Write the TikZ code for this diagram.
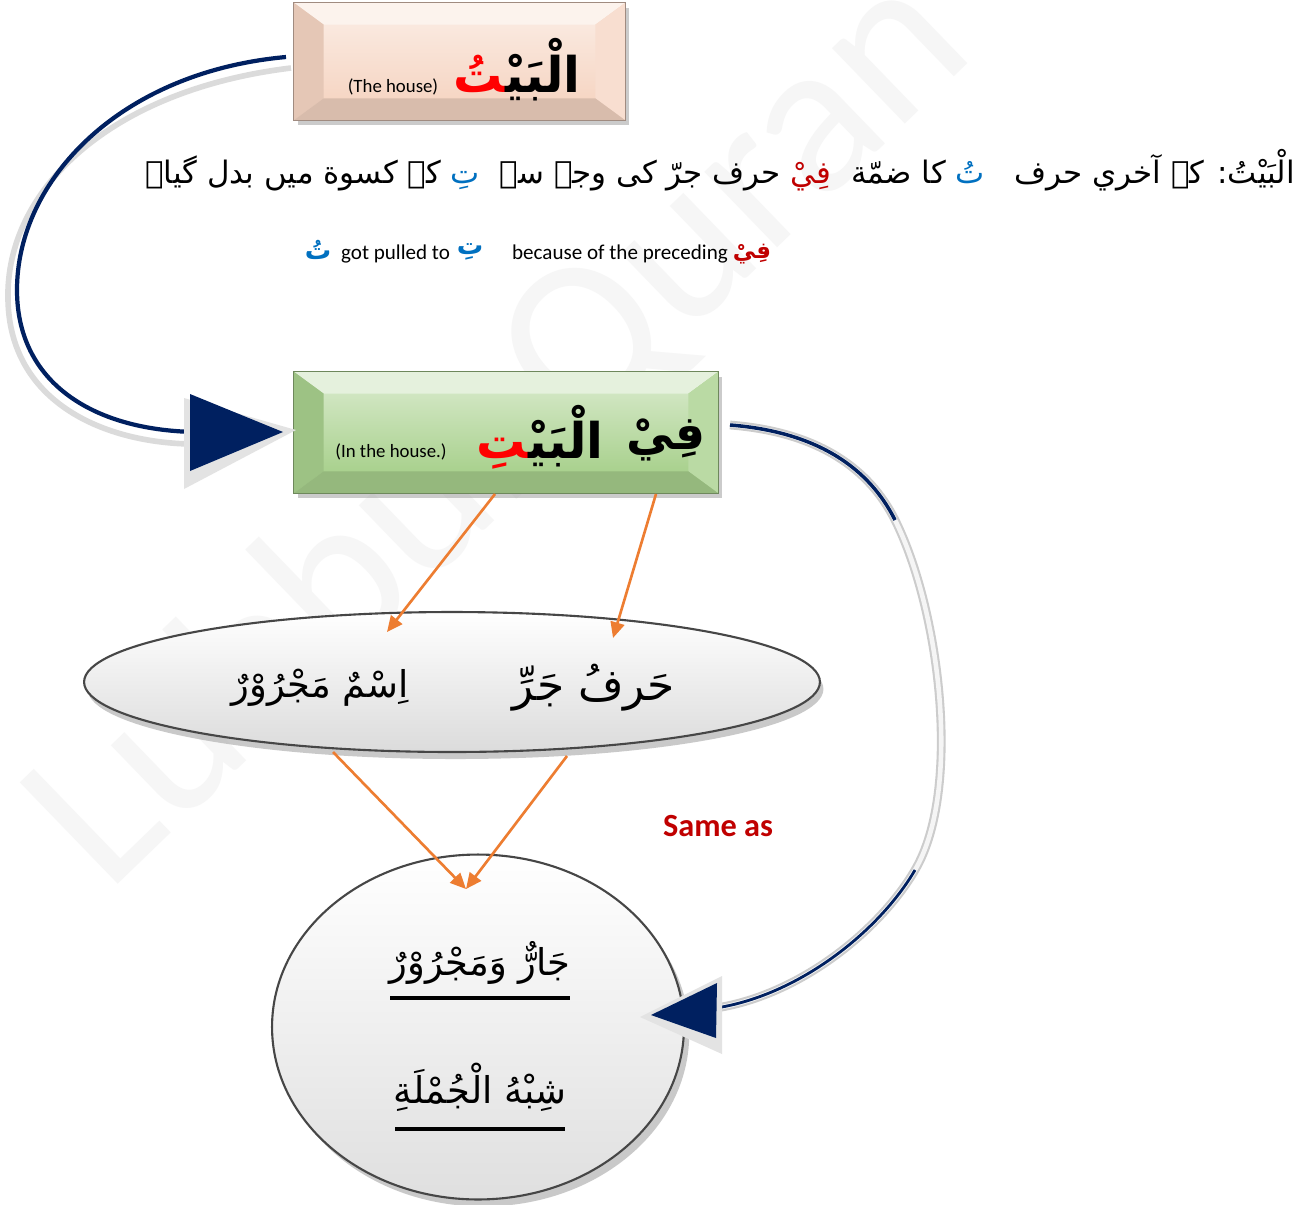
\documentclass[tikz,border=0pt]{standalone}
\usepackage{fontspec}
\setmainfont{Carlito}
\newfontfamily\arabicfont[Script=Arabic]{DejaVu Sans}
\TeXXeTstate=1
\usetikzlibrary{shapes.geometric,arrows.meta,calc,shadows}
\definecolor{navy}{HTML}{002060}
\definecolor{orng}{HTML}{ED7D31}
\definecolor{peach}{HTML}{F6D6C4}
\definecolor{grn}{HTML}{A9D18E}
\definecolor{dred}{HTML}{C00000}
\definecolor{tblue}{HTML}{0070C0}
\definecolor{wm}{HTML}{F6F6F6}
\newcommand\zwj{^^^^200d}
\newcommand\rl[1]{\hbox{\beginR #1\endR}}
% bevelled box: #1 node name, #2 colour
\newcommand\bevelbox[2]{%
  \fill[black!40,opacity=.5] ($(#1.south west)+(4,5)$) rectangle ($(#1.north east)+(4,5)$);
  \fill[#2] (#1.south west) rectangle (#1.north east);
  \fill[top color=#2!55!white,bottom color=#2] ($(#1.north west)+(30,22)$) rectangle ($(#1.south east)+(-30,-22)$);
  \fill[#2!30!white] (#1.north west) -- (#1.north east) -- ($(#1.north east)+(-30,22)$) -- ($(#1.north west)+(30,22)$) -- cycle;
  \fill[#2!93!black] (#1.north west) -- ($(#1.north west)+(30,22)$) -- ($(#1.south west)+(30,-22)$) -- (#1.south west) -- cycle;
  \fill[#2!80!white] (#1.north east) -- ($(#1.north east)+(-30,22)$) -- ($(#1.south east)+(-30,-22)$) -- (#1.south east) -- cycle;
  \fill[#2!88!black] (#1.south west) -- ($(#1.south west)+(30,-22)$) -- ($(#1.south east)+(-30,-22)$) -- (#1.south east) -- cycle;
  \draw[#2!65!black,line width=.4pt] (#1.south west) rectangle (#1.north east);
}
\begin{document}
\begin{tikzpicture}[x=0.02cm,y=-0.02cm,
  ar/.style={font=\arabicfont\fontsize{#1}{#1}\selectfont,inner sep=1pt},
  arb/.style={font=\arabicfont\bfseries\fontsize{#1}{#1}\selectfont,inner sep=1pt},
  en/.style={font=\fontsize{#1}{#1}\selectfont,inner sep=1pt},
  oarrow/.style={draw=orng,line width=1.5pt,-{Triangle[length=9pt,width=8pt]}},
  ribbon/.style={draw=gray!28,line width=3.2pt},
  navyline/.style={draw=navy,line width=2.4pt},
  tip/.style={fill=navy},
  tipbevel/.style={fill=gray!22}
]
\useasboundingbox (0,0) rectangle (1315,1204);
\fill[white] (0,0) rectangle (1315,1204);

% watermark
\node[rotate=44,text=wm,font=\fontsize{125}{125}\selectfont] (wmark) at (500,430) {Lubbul Quran};

% ---------- boxes ----------
\node[minimum width=6.62cm,minimum height=2.34cm,inner sep=0] (house) at (459.5,61.5) {};
\bevelbox{house}{peach}
\node[en=10.7] (houseen) at (393,87) {(The house)};
\node[arb=28,text=black] (housear) at (517,70) {\textcolor{red}{\hbox{\zwj تُ}}\hbox{الْبَيْ\zwj}};

\node[minimum width=8.48cm,minimum height=2.42cm,inner sep=0] (green) at (506,432.5) {};
\bevelbox{green}{grn}
\node[en=10.7] (greenen) at (391,452) {(In the house.)};
\node[arb=28] (greenar1) at (540,437) {\textcolor{red}{\hbox{\zwj تِ}}\hbox{الْبَيْ\zwj}};
\node[arb=27] (greenar2) at (666,440) {\rl{فِيْ}};

% ---------- explanation lines ----------
\node[ar=17.6,anchor=east] (urdu) at (1297,170) {\rl{کے کسوة میں بدل گیا۔}\ \textcolor{tblue}{\rl{تِ}}\ \ \rl{حرف جرّ کی وجہ سے}\ \textcolor{dred}{\rl{فِيْ}}\ \ \rl{کا ضمّة}\ \textcolor{tblue}{\rl{تُ}}\ \ \ \rl{الْبَيْتُ: کے آخري حرف}};

\node[arb=15,text=tblue] (e1) at (318,250) {\rl{تُ}};
\node[en=12,anchor=west] (e2) at (339,254) {got pulled to};
\node[arb=15,text=tblue] (e3) at (470,252) {\rl{تِ}};
\node[en=12,anchor=west] (e4) at (510,254) {because of the preceding};
\node[arb=13,text=dred] (e5) at (752,254) {\rl{فِيْ}};

% ---------- ellipse and circle ----------
\node[ellipse,minimum width=14.72cm,minimum height=2.8cm,draw=gray!55!black,line width=1.2pt,
      top color=white,bottom color=gray!28,
      drop shadow={shadow xshift=2pt,shadow yshift=-4pt,fill=gray!70,opacity=.6}] (ell) at (452,682) {};
\node[ar=25] (harf) at (594,688) {\rl{حَرفُ جَرِّ}};
\node[ar=21] (ism) at (320,688) {\rl{اِسْمٌ مَجْرُوْرٌ}};

\node[ellipse,minimum width=8.24cm,minimum height=6.9cm,draw=gray!55!black,line width=1.2pt,
      top color=white,bottom color=gray!25,
      drop shadow={shadow xshift=3pt,shadow yshift=-4pt,fill=gray!70,opacity=.6}] (circ) at (478,1027) {};
\node[ar=21] (jar) at (480,963) {\rl{جَارٌّ وَمَجْرُوْرٌ}};
\node[ar=21] (shib) at (480,1087) {\rl{شِبْهُ الْجُمْلَةِ}};
\coordinate (u1a) at (390,998); \coordinate (u1b) at (570,998);
\coordinate (u2a) at (395,1129); \coordinate (u2b) at (565,1129);
\draw[line width=2pt] (u1a) -- (u1b);
\draw[line width=2pt] (u2a) -- (u2b);

% ---------- orange connectors ----------
\coordinate (o1s) at (495,494); \coordinate (o1e) at (387,632);
\coordinate (o2s) at (656,494); \coordinate (o2e) at (613,638);
\coordinate (o3s) at (333,752); \coordinate (o4s) at (567,756);
\coordinate (o34e) at (466,889);
\draw[oarrow] (o1s) -- (o1e);
\draw[oarrow] (o2s) -- (o2e);
\draw[oarrow] (o3s) -- (o34e);
\draw[oarrow] (o4s) -- (o34e);

% ---------- left curved arrow ----------
\coordinate (L0) at (286,57);
\coordinate (L1) at (195,432);
\coordinate (Ltip) at (283,432);
\draw[ribbon] (291,68) .. controls (110,90) and (5,190) .. (8,300) .. controls (10,400) and (100,442) .. (190,444);
\draw[navyline] (L0) .. controls (120,72) and (17,180) .. (17,290) .. controls (17,382) and (92,430) .. (L1);
\fill[tipbevel] (184,398) -- (296,430) -- (184,489) -- cycle;
\fill[tip] (190,394) -- (Ltip) -- (190,471) -- cycle;

% ---------- right curved arrow ----------
\coordinate (R0) at (730,425);
\coordinate (R1) at (895,520);
\coordinate (R2) at (915,870);
\coordinate (R3) at (716,1008);
\coordinate (Rtip) at (651,1015);
\draw[draw=gray!40,line width=5pt] (R0) .. controls (820,432) and (870,470) .. (R1) .. controls (940,610) and (962,790) .. (R2) .. controls (880,930) and (800,995) .. (R3);
\draw[draw=gray!8,line width=2.6pt] (R0) .. controls (820,432) and (870,470) .. (R1) .. controls (940,610) and (962,790) .. (R2) .. controls (880,930) and (800,995) .. (R3);
\draw[navyline,line width=2pt] (R0) .. controls (820,432) and (870,470) .. (R1);
\draw[navyline,line width=1.6pt] (R2) .. controls (880,930) and (800,995) .. (R3);
\fill[tipbevel] (640,1017) -- (722,976) -- (722,1054) -- cycle;
\fill[tip] (Rtip) -- (717,983) -- (716,1038) -- cycle;

\node[font=\bfseries\fontsize{18.4}{21}\selectfont,text=dred] (same) at (718,826) {Same as};
\end{tikzpicture}
\end{document}
